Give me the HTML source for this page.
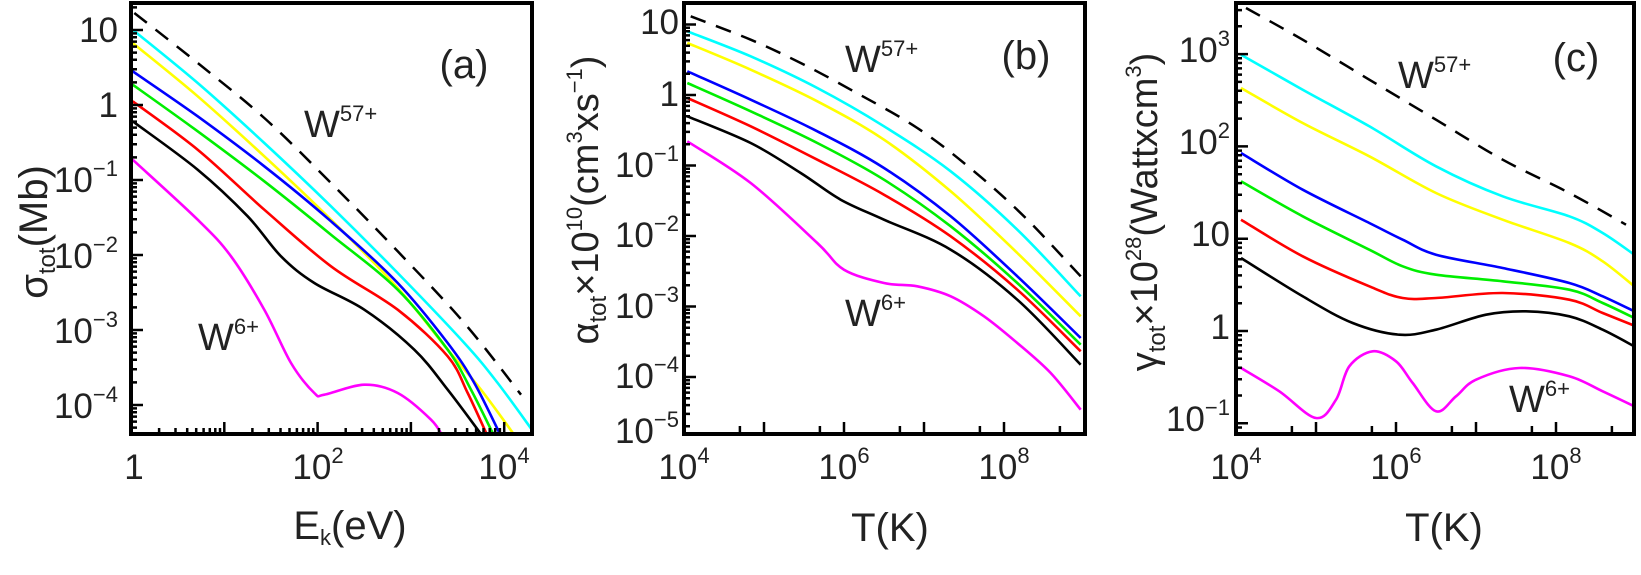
<!DOCTYPE html>
<html><head><meta charset="utf-8">
<style>
html,body{margin:0;padding:0;background:#fff;}
svg{display:block;}
text{font-family:"Liberation Sans","DejaVu Sans",sans-serif;fill:#222;}
</style></head>
<body>
<svg id="s" width="1641" height="575" viewBox="0 0 1641 575" xmlns="http://www.w3.org/2000/svg">
<defs>
<clipPath id="ca"><rect x="131" y="3" width="401" height="431"/></clipPath>
<clipPath id="cb"><rect x="684" y="3" width="401" height="431"/></clipPath>
<clipPath id="cc"><rect x="1236" y="3" width="398" height="431"/></clipPath>
</defs>
<g id="curves"></g>
<g id="ticks" stroke="#000" stroke-width="2.5"></g>
<g fill="none" stroke="#000" stroke-width="4">
<rect x="131" y="3" width="401" height="431"/>
<rect x="684" y="3" width="401" height="431"/>
<rect x="1236" y="3" width="398" height="431"/>
</g>
<!-- panel a labels -->
<g font-size="35" text-anchor="end">
<text x="118" y="42">10</text>
<text x="118" y="117">1</text>
<text x="118" y="192">10<tspan font-size="22" dy="-16">−1</tspan></text>
<text x="118" y="268">10<tspan font-size="22" dy="-16">−2</tspan></text>
<text x="118" y="343">10<tspan font-size="22" dy="-16">−3</tspan></text>
<text x="118" y="418">10<tspan font-size="22" dy="-16">−4</tspan></text>
</g>
<g font-size="35" text-anchor="middle">
<text x="134" y="479">1</text>
<text x="318" y="479">10<tspan font-size="22" dy="-16">2</tspan></text>
<text x="504" y="479">10<tspan font-size="22" dy="-16">4</tspan></text>
<text x="350" y="539" font-size="40">E<tspan font-size="22" dy="6">k</tspan><tspan dy="-6">(eV)</tspan></text>
<text x="464" y="78" font-size="40">(a)</text>
</g>
<text transform="translate(47,232) rotate(-90)" font-size="40" text-anchor="middle">σ<tspan font-size="24" dy="8">tot</tspan><tspan dy="-8">(Mb)</tspan></text>
<text x="304" y="137" font-size="38">W<tspan font-size="22" dy="-16">57+</tspan></text>
<text x="198" y="350" font-size="38">W<tspan font-size="22" dy="-16">6+</tspan></text>

<!-- panel b labels -->
<g font-size="35" text-anchor="end">
<text x="679" y="34">10</text>
<text x="679" y="106">1</text>
<text x="679" y="177">10<tspan font-size="22" dy="-16">−1</tspan></text>
<text x="679" y="247">10<tspan font-size="22" dy="-16">−2</tspan></text>
<text x="679" y="318">10<tspan font-size="22" dy="-16">−3</tspan></text>
<text x="679" y="388">10<tspan font-size="22" dy="-16">−4</tspan></text>
<text x="679" y="443">10<tspan font-size="22" dy="-16">−5</tspan></text>
</g>
<g font-size="35" text-anchor="middle">
<text x="684" y="479">10<tspan font-size="22" dy="-16">4</tspan></text>
<text x="844" y="479">10<tspan font-size="22" dy="-16">6</tspan></text>
<text x="1004" y="479">10<tspan font-size="22" dy="-16">8</tspan></text>
<text x="890" y="541" font-size="40">T(K)</text>
<text x="1026" y="69" font-size="40">(b)</text>
</g>
<text transform="translate(598,200) rotate(-90)" font-size="38" text-anchor="middle">α<tspan font-size="24" dy="8">tot</tspan><tspan dy="-8">×10</tspan><tspan font-size="22" dy="-16">10</tspan><tspan dy="16">(cm</tspan><tspan font-size="22" dy="-16">3</tspan><tspan dy="16">xs</tspan><tspan font-size="22" dy="-16">−1</tspan><tspan dy="16">)</tspan></text>
<text x="845" y="72" font-size="38">W<tspan font-size="22" dy="-16">57+</tspan></text>
<text x="845" y="326" font-size="38">W<tspan font-size="22" dy="-16">6+</tspan></text>

<!-- panel c labels -->
<g font-size="35" text-anchor="end">
<text x="1230" y="62">10<tspan font-size="22" dy="-16">3</tspan></text>
<text x="1230" y="154">10<tspan font-size="22" dy="-16">2</tspan></text>
<text x="1230" y="246">10</text>
<text x="1230" y="339">1</text>
<text x="1230" y="431">10<tspan font-size="22" dy="-16">−1</tspan></text>
</g>
<g font-size="35" text-anchor="middle">
<text x="1236" y="479">10<tspan font-size="22" dy="-16">4</tspan></text>
<text x="1396" y="479">10<tspan font-size="22" dy="-16">6</tspan></text>
<text x="1556" y="479">10<tspan font-size="22" dy="-16">8</tspan></text>
<text x="1444" y="541" font-size="40">T(K)</text>
<text x="1576" y="71" font-size="40">(c)</text>
</g>
<text transform="translate(1157,212) rotate(-90)" font-size="38" text-anchor="middle">γ<tspan font-size="24" dy="8">tot</tspan><tspan dy="-8">×10</tspan><tspan font-size="22" dy="-16">28</tspan><tspan dy="16">(Wattxcm</tspan><tspan font-size="22" dy="-16">3</tspan><tspan dy="16">)</tspan></text>
<text x="1398" y="88" font-size="38">W<tspan font-size="22" dy="-16">57+</tspan></text>
<text x="1509" y="412" font-size="38">W<tspan font-size="22" dy="-16">6+</tspan></text>
</svg>
<script>
(function(){
var S=3, NS="http://www.w3.org/2000/svg";
var cg=document.getElementById('curves'), tg=document.getElementById('ticks');
function smooth(p){
  var d="M"+p[0][0].toFixed(1)+","+p[0][1].toFixed(1);
  for(var i=0;i<p.length-1;i++){
    var p0=p[i-1]||p[i],p1=p[i],p2=p[i+1],p3=p[i+2]||p2;
    var c1=[p1[0]+(p2[0]-p0[0])/6,p1[1]+(p2[1]-p0[1])/6];
    var c2=[p2[0]-(p3[0]-p1[0])/6,p2[1]-(p3[1]-p1[1])/6];
    d+="C"+c1[0].toFixed(1)+","+c1[1].toFixed(1)+" "+c2[0].toFixed(1)+","+c2[1].toFixed(1)+" "+p2[0].toFixed(1)+","+p2[1].toFixed(1);
  }
  return d;
}
function add(off,clip,col,pts,dash){
  var p=pts.map(function(q){return [off+q[0]/S,3+q[1]/S];});
  var e=document.createElementNS(NS,'path');
  e.setAttribute('d',smooth(p));e.setAttribute('fill','none');
  e.setAttribute('stroke',col);e.setAttribute('stroke-width',dash?'2.5':'2.6');
  if(dash)e.setAttribute('stroke-dasharray','16,11');
  e.setAttribute('clip-path','url(#'+clip+')');
  cg.appendChild(e);
}
var C='#00ffff',Y='#ffff00',B='#0000ff',G='#00ee00',R='#ff0000',K='#000',M='#ff00ff';
// panel a
var A=131;
add(A,'ca',C,[[5,80],[200,240],[400,420],[600,610],[800,810],[1000,1020],[1100,1140],[1210,1290]]);
add(A,'ca',Y,[[5,120],[200,280],[400,460],[600,650],[800,855],[950,1040],[1050,1160],[1160,1310]]);
add(A,'ca',B,[[5,205],[200,340],[400,490],[600,655],[800,840],[950,1020],[1030,1140],[1110,1300]]);
add(A,'ca',G,[[5,245],[200,385],[400,535],[600,695],[800,860],[950,1040],[1020,1160],[1090,1300]]);
add(A,'ca',R,[[5,295],[200,440],[400,620],[600,790],[800,920],[950,1060],[1010,1170],[1070,1300]]);
add(A,'ca',K,[[5,355],[200,500],[350,640],[450,760],[550,840],[700,920],[850,1040],[950,1160],[1055,1300]]);
add(A,'ca',M,[[5,470],[200,650],[300,760],[400,920],[480,1080],[550,1170],[580,1175],[700,1145],[800,1170],[900,1250],[935,1300]]);
add(A,'ca',K,[[10,30],[200,180],[400,345],[600,540],[800,745],[1000,960],[1170,1175]],true);
// panel b
var Bo=684;
add(Bo,'cb',C,[[10,85],[200,160],[400,255],[600,370],[800,505],[1000,680],[1190,880]]);
add(Bo,'cb',Y,[[10,120],[200,200],[400,295],[600,410],[800,565],[1000,750],[1190,940]]);
add(Bo,'cb',B,[[10,205],[200,290],[400,385],[600,495],[800,640],[1000,820],[1190,1005]]);
add(Bo,'cb',G,[[10,240],[200,325],[400,420],[600,530],[800,670],[1000,840],[1190,1025]]);
add(Bo,'cb',R,[[10,285],[200,370],[400,470],[600,575],[800,700],[1000,860],[1190,1045]]);
add(Bo,'cb',K,[[10,340],[200,420],[350,510],[470,590],[600,650],[800,740],[1000,890],[1190,1085]]);
add(Bo,'cb',M,[[10,415],[200,540],[400,720],[480,800],[600,840],[700,850],[800,880],[900,940],[1000,1020],[1100,1110],[1190,1220]]);
add(Bo,'cb',K,[[20,40],[200,110],[350,180],[500,260],[700,375],[870,505],[1025,645],[1190,820]],true);
// panel c
var Co=1236;
add(Co,'cc',C,[[15,155],[200,260],[400,370],[600,490],[800,580],[1000,640],[1100,690],[1195,755]]);
add(Co,'cc',Y,[[15,255],[200,360],[400,460],[600,570],[800,650],[1000,720],[1100,775],[1195,850]]);
add(Co,'cc',B,[[15,450],[200,560],[400,660],[500,710],[600,755],[800,795],[1000,840],[1100,880],[1195,925]]);
add(Co,'cc',G,[[15,535],[200,640],[400,740],[500,790],[600,815],[800,835],[1000,860],[1100,900],[1195,945]]);
add(Co,'cc',R,[[15,650],[200,760],[400,850],[500,885],[600,885],[800,870],[1000,890],[1100,930],[1195,968]]);
add(Co,'cc',K,[[15,765],[200,880],[350,960],[490,995],[600,980],[750,935],[870,925],[1000,940],[1100,980],[1195,1030]]);
add(Co,'cc',M,[[15,1095],[130,1165],[240,1245],[300,1190],[340,1090],[410,1045],[480,1075],[530,1140],[600,1225],[660,1180],[720,1130],[850,1095],[1000,1120],[1100,1165],[1195,1210]]);
add(Co,'cc',K,[[30,15],[200,110],[400,230],[600,350],[800,470],[1000,570],[1170,665]],true);
// ticks
var d="";
function yt(x0,top,bot,f,lo,hi){
  for(var e=lo;e<=hi;e++){for(var m=1;m<10;m++){var y=f(e+Math.log10(m));if(y<top||y>bot)continue;var L=m==1?12:6;d+="M"+x0+","+y.toFixed(1)+"h"+L;}}
}
function xt(y0,l,r,f,lo,hi,full){
  for(var e=lo;e<=hi;e++){for(var m=1;m<10;m++){if(!full&&!(m==1||m==5))continue;var x=f(e+Math.log10(m));if(x<l||x>r)continue;var L=m==1?12:(full?6:8);d+="M"+x.toFixed(1)+","+y0+"v-"+L;}}
}
yt(131,5,432,function(v){return 105-75*v;},-6,2);
xt(434,133,530,function(v){return 131+93.3*v;},0,5,true);
yt(684,5,432,function(v){return 95-70.5*v;},-6,2);
xt(434,686,1083,function(v){return 684+80*(v-4);},4,9,false);
yt(1236,5,432,function(v){return 331-92.3*v;},-2,4);
xt(434,1238,1632,function(v){return 1236+80*(v-4);},4,9,false);
var t=document.createElementNS(NS,'path');t.setAttribute('d',d);tg.appendChild(t);
})();
</script>
</body></html>
